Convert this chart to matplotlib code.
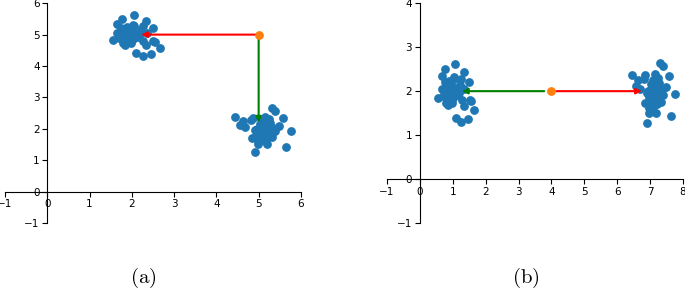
import matplotlib
matplotlib.use("Agg")
import matplotlib.pyplot as plt
import numpy as np

plt.rcParams['mathtext.fontset'] = 'cm'

# cluster near (2, 5) in panel (a)
c1x = [2.06, 1.77, 2.33, 1.66, 2.03, 2.26, 2.50, 1.88, 2.05, 1.66, 2.35, 1.92, 2.22, 1.56, 1.70,
       1.82, 1.96, 2.12, 1.80, 1.85, 1.97, 2.27, 2.51, 2.55, 2.33, 2.66, 2.09, 2.45, 2.26, 1.90,
       1.95, 2.00, 1.86, 2.10, 1.78, 1.93, 2.15, 1.88, 2.02, 1.98, 1.75, 2.18, 1.84]
c1y = [5.62, 5.50, 5.44, 5.34, 5.32, 5.28, 5.21, 5.24, 5.27, 5.06, 5.06, 5.08, 5.14, 4.84, 4.90,
       4.82, 4.93, 4.98, 4.74, 4.68, 4.80, 4.79, 4.81, 4.77, 4.67, 4.58, 4.40, 4.37, 4.31, 5.00,
       4.95, 5.10, 4.88, 5.02, 5.05, 5.15, 4.92, 5.18, 4.85, 4.72, 5.20, 4.96, 4.99]
# cluster near (5.1, 2) in panel (a)
c2x = [4.44, 4.62, 4.57, 4.68, 4.81, 4.86, 5.31, 5.39, 5.15, 5.25, 5.57, 5.49, 5.76, 5.39, 5.64,
       4.91, 4.85, 4.98, 5.19, 5.10, 5.03, 4.95, 5.10, 5.21, 5.27, 5.18, 5.02, 5.28, 5.32, 4.92,
       5.05, 5.15, 5.22, 4.98, 5.12, 5.35, 5.08, 4.96, 5.20, 5.30]
c2y = [2.37, 2.26, 2.11, 2.06, 2.28, 2.36, 2.65, 2.58, 2.38, 2.30, 2.34, 2.10, 1.93, 1.92, 1.43,
       1.27, 1.72, 1.51, 1.51, 1.64, 2.17, 2.00, 1.90, 2.05, 1.93, 1.76, 1.80, 2.18, 1.75, 1.95,
       2.10, 2.20, 1.85, 1.62, 1.98, 2.02, 2.25, 1.86, 1.70, 1.88]

# panel (b) uses the same clusters shifted
b1_shift = (-1.0, -3.0)
b2_shift = (2.0, 0.0)

# centre points
center_a = (5.0, 5.0)
center_b = (4.0, 2.0)

blue = '#1f77b4'
orange = '#ff7f0e'

fig = plt.figure(figsize=(6.85, 2.92), dpi=100)
axa = fig.add_axes([0.0073, 0.236, 0.432, 0.753])
axb = fig.add_axes([0.565, 0.236, 0.432, 0.753])


def style(ax, xlim, ylim):
    ax.set_xlim(*xlim)
    ax.set_ylim(*ylim)
    ax.spines['left'].set_position(('data', 0))
    ax.spines['bottom'].set_position(('data', 0))
    ax.spines['top'].set_visible(False)
    ax.spines['right'].set_visible(False)
    ax.set_xticks(range(xlim[0], xlim[1] + 1))
    ax.set_yticks(range(ylim[0], ylim[1] + 1))
    ax.tick_params(labelsize=7.5, length=3.5, width=0.8, pad=2)
    for s in ax.spines.values():
        s.set_linewidth(0.8)


def arrow(ax, start, end, color):
    ax.annotate('', xy=end, xytext=start,
                arrowprops=dict(arrowstyle='-|>', color=color, lw=1.5,
                                mutation_scale=8, shrinkA=0, shrinkB=0),
                zorder=3)


ms = 28
# panel (a)
style(axa, (-1, 6), (-1, 6))
axa.scatter(c1x, c1y, s=ms, color=blue, zorder=2)
axa.scatter(c2x, c2y, s=ms, color=blue, zorder=2)
arrow(axa, center_a, (2.22, 5.0), 'red')
arrow(axa, center_a, (5.0, 2.2), 'green')
axa.scatter([center_a[0]], [center_a[1]], s=ms, color=orange, zorder=4)

# panel (b)
style(axb, (-1, 8), (-1, 4))
axb.scatter(np.array(c1x) + b1_shift[0], np.array(c1y) + b1_shift[1], s=ms, color=blue, zorder=2)
axb.scatter(np.array(c2x) + b2_shift[0], np.array(c2y) + b2_shift[1], s=ms, color=blue, zorder=2)
arrow(axb, (3.78, 2.0), (1.28, 2.0), 'green')
arrow(axb, (4.15, 2.0), (6.75, 2.0), 'red')
axb.scatter([center_b[0]], [center_b[1]], s=ms, color=orange, zorder=4)

fig.text(0.209, 0.048, r'$\mathrm{(a)}$', fontsize=15, ha='center', va='center')
fig.text(0.768, 0.048, r'$\mathrm{(b)}$', fontsize=15, ha='center', va='center')

fig.savefig('out.png', dpi=100)
